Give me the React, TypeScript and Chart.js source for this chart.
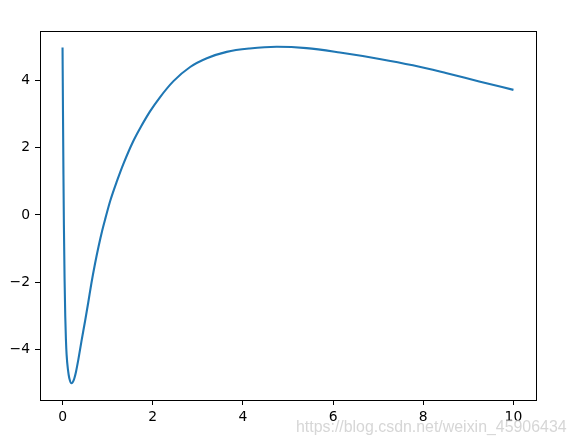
import React, { useEffect, useRef } from "react";
import { Chart, registerables } from "chart.js";

Chart.register(...registerables);

const xValues = [
  0, 0.01, 0.02, 0.03, 0.045, 0.06, 0.075, 0.09, 0.12, 0.15, 0.2, 0.25, 0.3,
  0.35, 0.42, 0.5, 0.57, 0.64, 0.72, 0.8, 0.88, 0.95, 1.06, 1.21, 1.35, 1.57,
  1.72, 1.94, 2.16, 2.46, 2.83, 3.2, 3.64, 4.15, 4.75, 5.41, 6.15, 7.03, 7.77,
  8.5, 9.24, 10,
];
const yValues = [
  4.98, 3.0, 1.2, -0.3, -1.9, -3.0, -3.7, -4.15, -4.6, -4.85, -5.0, -4.9,
  -4.65, -4.3, -3.75, -3.15, -2.6, -2.03, -1.45, -0.93, -0.46, -0.1, 0.43,
  1.02, 1.52, 2.2, 2.58, 3.08, 3.5, 3.98, 4.4, 4.66, 4.85, 4.95, 5.0, 4.96,
  4.83, 4.64, 4.45, 4.22, 3.97, 3.72,
];
const xTicks = [0, 2, 4, 6, 8, 10];
const yTicks = [-4, -2, 0, 2, 4];
const watermark = "https://blog.csdn.net/weixin_45906434";

export default function App() {
  const ref = useRef<HTMLCanvasElement>(null);

  useEffect(() => {
    document.body.style.margin = "0";
    const canvas = ref.current;
    if (!canvas) return;

    const frame = {
      id: "frame",
      afterDraw(chart: any) {
        const { ctx, chartArea: a } = chart;
        ctx.save();
        ctx.strokeStyle = "#000";
        ctx.lineWidth = 1;
        ctx.strokeRect(
          Math.round(a.left) + 0.5,
          Math.round(a.top) + 0.5,
          Math.round(a.right) - Math.round(a.left),
          Math.round(a.bottom) - Math.round(a.top)
        );
        ctx.font = '16px "Liberation Sans", Arial, sans-serif';
        const w = ctx.measureText(watermark).width;
        const size = (16 * 271) / w;
        ctx.font = `${size}px "Liberation Sans", Arial, sans-serif`;
        ctx.fillStyle = "rgba(200,200,200,0.75)";
        ctx.textAlign = "left";
        ctx.textBaseline = "alphabetic";
        ctx.fillText(watermark, 296, 432);
        ctx.restore();
      },
    };

    const fmt = (v: any) => String(v).replace("-", "\u2212");

    const chart = new Chart(canvas, {
      type: "line",
      data: {
        datasets: [
          {
            data: xValues.map((x, i) => ({ x, y: yValues[i] })),
            borderColor: "#1f77b4",
            borderWidth: 2.1,
            pointRadius: 0,
            fill: false,
            cubicInterpolationMode: "monotone",
          },
        ],
      },
      options: {
        responsive: false,
        animation: false,
        layout: { padding: { top: 31, right: 41, left: 0, bottom: 0 } },
        plugins: { legend: { display: false }, tooltip: { enabled: false } },
        scales: {
          x: {
            type: "linear",
            min: -0.5,
            max: 10.5,
            afterBuildTicks: (s: any) => {
              s.ticks = xTicks.map((v) => ({ value: v }));
            },
            afterFit: (s: any) => {
              s.height = 42;
            },
            border: { display: false },
            grid: {
              drawOnChartArea: false,
              drawTicks: true,
              tickLength: 5,
              tickColor: "#000",
              lineWidth: 1,
            },
            ticks: {
              autoSkip: false,
              maxRotation: 0,
              padding: 4,
              color: "#000",
              font: { family: "DejaVu Sans", size: 13.9 },
              callback: fmt,
            },
          },
          y: {
            type: "linear",
            min: -5.5,
            max: 5.47,
            afterBuildTicks: (s: any) => {
              s.ticks = yTicks.map((v) => ({ value: v }));
            },
            afterFit: (s: any) => {
              s.width = 40;
            },
            border: { display: false },
            grid: {
              drawOnChartArea: false,
              drawTicks: true,
              tickLength: 5,
              tickColor: "#000",
              lineWidth: 1,
            },
            ticks: {
              autoSkip: false,
              padding: 5,
              color: "#000",
              font: { family: "DejaVu Sans", size: 13.9 },
              callback: fmt,
            },
          },
        },
      },
      plugins: [frame],
    } as any);

    return () => chart.destroy();
  }, []);

  return (
    <div style={{ position: "absolute", left: 0, top: 0, width: 577, height: 442, background: "#fff" }}>
      <canvas ref={ref} width={577} height={442} />
    </div>
  );
}
